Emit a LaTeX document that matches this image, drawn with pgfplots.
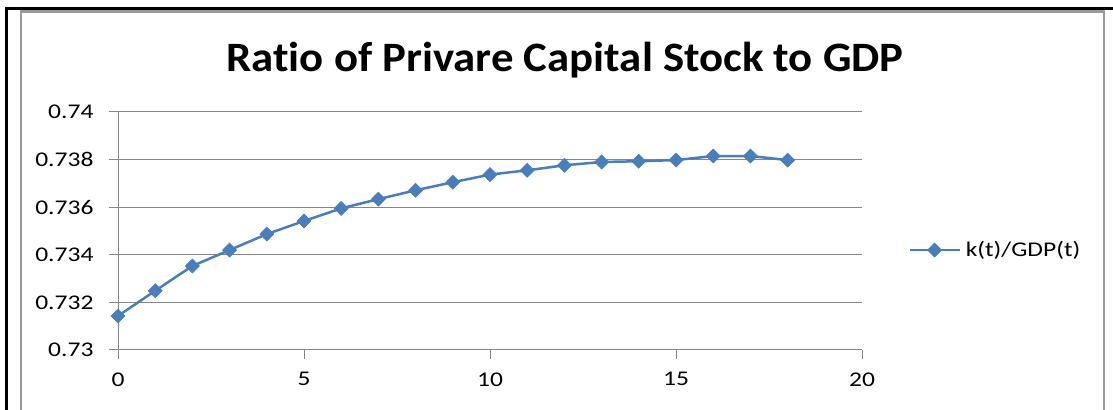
\documentclass[border=0pt]{standalone}
\usepackage{pgfplots}
\pgfplotsset{compat=1.18}
\usepackage{fontspec}
\setmainfont{Carlito}[Ligatures=NoCommon]
\newfontfamily\tickfont{Carlito}[FakeStretch=1.22, Ligatures=NoCommon]
\newfontfamily\titlefont{Carlito}[FakeStretch=1.07, Ligatures=NoCommon]
\definecolor{lineblue}{HTML}{4A7EBB}
\definecolor{gridgray}{HTML}{868686}
\definecolor{framegray}{HTML}{999999}
\begin{document}
\begin{tikzpicture}
\useasboundingbox (0bp,0bp) rectangle (1113bp,410bp);
% outer frame
\draw[black, line width=3bp] (6.5bp,0bp) -- (6.5bp,401.5bp) -- (1113bp,401.5bp);
\draw[framegray, line width=2.5bp] (21bp,0bp) -- (21bp,398.5bp) -- (1104bp,398.5bp) -- (1104bp,0bp);
\node[anchor=base, inner sep=0pt, font=\titlefont\bfseries\fontsize{42}{42}\selectfont] at (565bp,338bp) {Ratio of Privare Capital Stock to GDP};
\begin{axis}[
  at={(118bp,60bp)}, anchor=south west,
  scale only axis, width=744bp, height=238bp,
  xmin=0, xmax=20, ymin=0.73, ymax=0.74,
  xtick={0,5,10,15,20},
  ytick={0.73,0.732,0.734,0.736,0.738,0.74},
  scaled y ticks=false,
  yticklabel style={/pgf/number format/fixed, /pgf/number format/precision=3},
  /pgf/number format/assume math mode=true,
  tick label style={font=\tickfont\fontsize{21}{21}\selectfont},
  axis lines=left, axis line style={-, draw=gridgray, line width=1bp},
  tick align=outside, major tick length=9bp,
  tick style={draw=gridgray, line width=1bp},
  ymajorgrids, grid style={draw=gridgray, line width=1bp},
  yticklabel style={xshift=-12bp},
  xticklabel style={yshift=-10bp},
  legend style={draw=none, at={(1.062,0.42)}, anchor=west, inner sep=0pt,
    font=\tickfont\fontsize{21}{21}\selectfont,
    nodes={inner sep=5bp}},
  legend image code/.code={\draw[mark repeat=2,mark phase=2,#1] plot coordinates {(0bp,0bp) (25bp,0bp) (50bp,0bp)};},
]
\addplot[lineblue, line width=2.5bp, mark=square*, mark size=5bp,
  mark options={rotate=45, fill=lineblue, draw=lineblue, line width=0.5bp}]
  coordinates {
  (0,0.73143) (1,0.73249) (2,0.73353) (3,0.73420) (4,0.73487)
  (5,0.73542) (6,0.73595) (7,0.73634) (8,0.73671) (9,0.73705)
  (10,0.73737) (11,0.73755) (12,0.73776) (13,0.73790) (14,0.73793)
  (15,0.73798) (16,0.73815) (17,0.73815) (18,0.73798)
  };
\addlegendentry{k(t)/GDP(t)}
\end{axis}
\end{tikzpicture}
\end{document}
